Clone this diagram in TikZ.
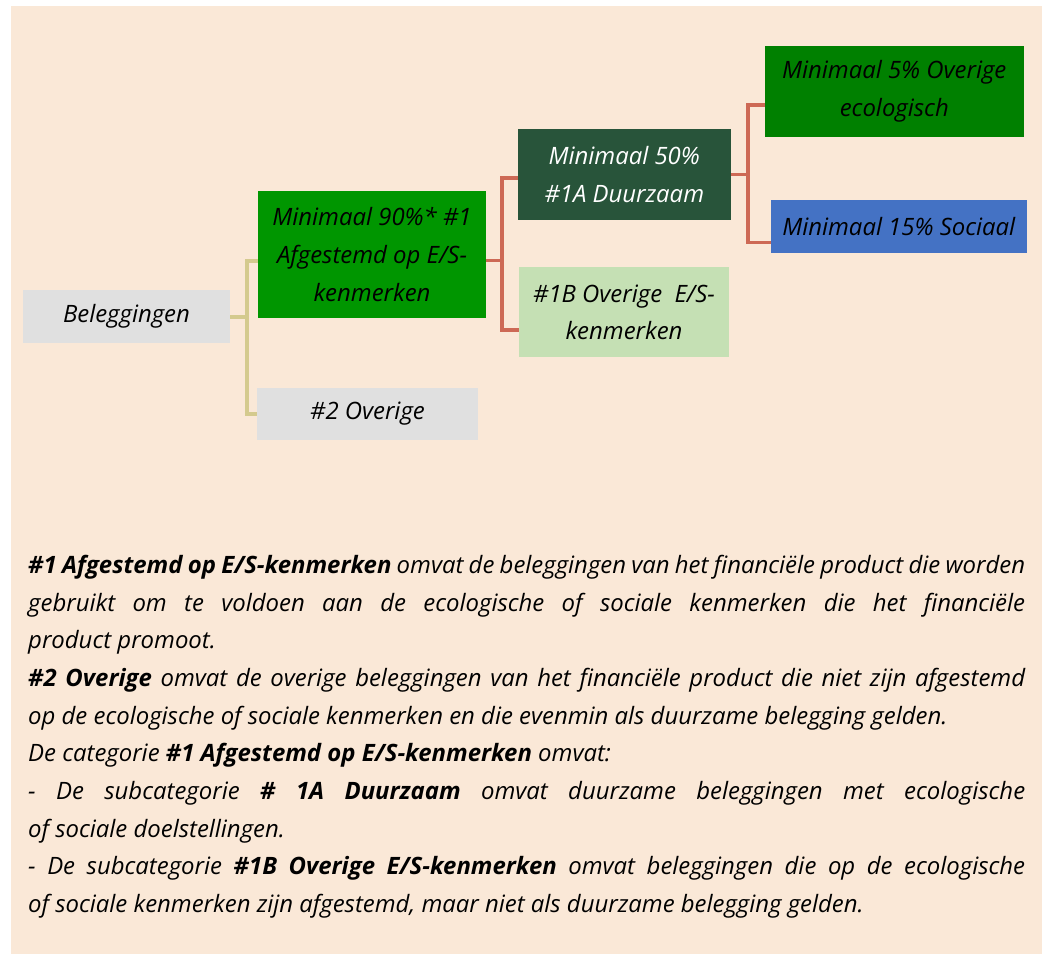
\documentclass[tikz,border=0pt]{standalone}
\usepackage{fontspec}
\setmainfont{Open Sans}

\definecolor{peach}{RGB}{250,232,215}
\definecolor{greybox}{RGB}{224,224,224}
\definecolor{midgreen}{RGB}{0,150,0}
\definecolor{darkgreen}{RGB}{40,84,58}
\definecolor{palegreen}{RGB}{197,224,180}
\definecolor{puregreen}{RGB}{0,128,0}
\definecolor{socblue}{RGB}{68,114,196}
\definecolor{redline}{RGB}{205,105,85}
\definecolor{tanline}{RGB}{212,202,142}

\newcommand{\boxfont}{\fontsize{24}{38}\selectfont\itshape}
\newcommand{\notefont}{\fontsize{24}{37.8}\selectfont\itshape}

\begin{document}
\begin{tikzpicture}[x=1bp,y=-1bp]
\tikzset{
  box/.style={inner sep=0pt, align=center, font=\boxfont},
  tanlink/.style={draw=tanline, line width=3.5bp},
  redlink/.style={draw=redline, line width=3.5bp}
}
\useasboundingbox (0,0) rectangle (1042,954);
\fill [peach] (11,6) rectangle (1042,954);
% the tree
\node [box, fill=greybox, minimum width=207bp, minimum height=53bp] (bel) at (126.5,316.5) {Beleggingen};
\node [box, fill=midgreen, minimum width=228bp, minimum height=127bp] (afg) at (372,254.5) {Minimaal 90\%* \#1\\Afgestemd op E/S-\\kenmerken};
\node [box, fill=greybox, minimum width=221bp, minimum height=52bp] (ov2) at (367.5,414) {\#2 Overige};
\node [box, fill=darkgreen, text=white, minimum width=213bp, minimum height=91bp] (duur) at (624.3,174.3) {Minimaal 50\%\\\#1A Duurzaam};
\node [box, fill=palegreen, minimum width=210bp, minimum height=90bp] (ov1b) at (624,312.3) {\#1B Overige\ \ E/S-\\kenmerken};
\node [box, fill=puregreen, minimum width=259bp, minimum height=91bp] (eco) at (894.3,91.3) {Minimaal 5\% Overige\\ecologisch};
\node [box, fill=socblue, minimum width=256bp, minimum height=53bp] (soc) at (898.8,226.3) {Minimaal 15\% Sociaal};
% connectors
\coordinate (j1) at (247,317);
\draw [tanlink] (bel.east |- j1) -- (j1);
\draw [tanlink] ([yshift=-6.5bp]afg.west) -| (j1) |- (ov2.west);
\draw [redlink] ([yshift=-6.2bp]afg.east) -- ++(15.7,0) coordinate (j2);
\draw [redlink] ([yshift=-3.6bp]duur.west) -| (j2) |- ([yshift=-17.7bp]ov1b.west);
\draw [redlink] (duur.east) -- ++(17,0) coordinate (j3);
\draw [redlink] ([yshift=-13.7bp]eco.west) -| (j3) |- ([yshift=-16.4bp]soc.west);
% explanation
\node [anchor=north west, inner sep=0pt, text width=997bp, align=justify, font=\notefont] (notes) at (28,555) {%
\parindent=0pt \hyphenpenalty=10000 \exhyphenpenalty=10000 \tolerance=9999
\textbf{\#1 Afgestemd op E/S-kenmerken} omvat de beleggingen van het financiële product die worden \linebreak
gebruikt om te voldoen aan de ecologische of sociale kenmerken die het financiële \linebreak
product promoot.\par
\textbf{\#2 Overige} omvat de overige beleggingen van het financiële product die niet zijn afgestemd \linebreak
op de ecologische of sociale kenmerken en die evenmin als duurzame belegging gelden.\par
De categorie \textbf{\#1 Afgestemd op E/S-kenmerken} omvat:\par
- De subcategorie \textbf{\# 1A Duurzaam} omvat duurzame beleggingen met ecologische \linebreak
of sociale doelstellingen.\par
- De subcategorie \textbf{\#1B Overige E/S-kenmerken} omvat beleggingen die op de ecologische \linebreak
of sociale kenmerken zijn afgestemd, maar niet als duurzame belegging gelden.\par};
\end{tikzpicture}
\end{document}
